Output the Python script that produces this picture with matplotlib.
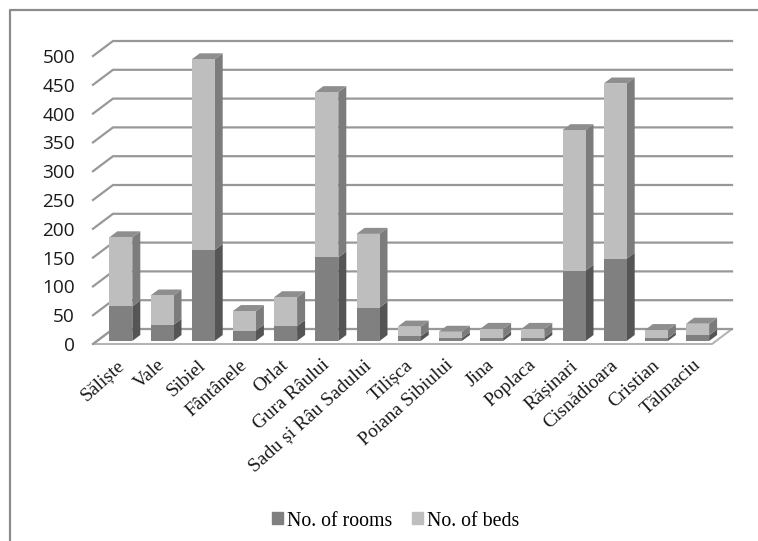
import matplotlib
matplotlib.use("Agg")
import matplotlib.pyplot as plt
from matplotlib.lines import Line2D
from matplotlib.patches import Patch, Polygon
from matplotlib.transforms import ScaledTranslation, offset_copy

'''
    DATA
'''
LOCALITIES = ["Săliște", "Vale", "Sibiel", "Fântânele", "Orlat", "Gura Râului",
              "Sadu și Râu Sadului", "Tilișca", "Poiana Sibiului", "Jina", "Poplaca",
              "Rășinari", "Cisnădioara", "Cristian", "Tălmaciu"]
ROOMS = [60, 28, 158, 18, 26, 145, 58, 8, 5, 6, 6, 122, 143, 5, 10]
BEDS = [120, 51, 331, 34, 50, 287, 128, 17, 11, 15, 15, 244, 304, 14, 20]
Y_TICKS = [0, 50, 100, 150, 200, 250, 300, 350, 400, 450, 500]

'''
    GRAPH CONFIGURATION
'''
WIDTH, HEIGHT = 758, 541
LEFT, RIGHT, TOP, BOTTOM = 93, 732, 41, 344
CAT_PX = 41.2
FIRST_BAR_PX = 120.8
VALUE_PX = 0.576
BAR_WIDTH = 23 / CAT_PX
BAR_LIFT = 3  # bars stand slightly behind the front edge of the floor

# depth of the fake 3d, in data units
WALL_DX, WALL_DY = 20 / CAT_PX, 15 / VALUE_PX
BAR_DX, BAR_DY = 8 / CAT_PX, 6 / VALUE_PX

ROOMS_FRONT, ROOMS_SIDE = "#808080", "#555555"
BEDS_FRONT, BEDS_SIDE = "#bebebe", "#7c7c7c"
TOP_FACE = "#8e8e8e"
GRID_COLOR = "#989898"
FRAME_COLOR = "#8c8c8c"

fig = plt.figure(figsize=(WIDTH / 100, HEIGHT / 100), dpi=100)
ax = fig.add_axes([LEFT / WIDTH, 1 - BOTTOM / HEIGHT,
                   (RIGHT - LEFT) / WIDTH, (BOTTOM - TOP) / HEIGHT])
ax.set_xlim((LEFT - FIRST_BAR_PX) / CAT_PX, (RIGHT - FIRST_BAR_PX) / CAT_PX)
ax.set_ylim(0, (BOTTOM - TOP) / VALUE_PX)
ax.patch.set_visible(False)
for spine in ax.spines.values():
    spine.set_visible(False)

x_left, x_right = ax.get_xlim()
floor_right = x_right - WALL_DX

# floor
floor = Polygon([(x_left, 0), (floor_right, 0), (x_right, WALL_DY), (x_left + WALL_DX, WALL_DY)],
                closed=True, facecolor="white", edgecolor="#b4b4b4", linewidth=1.5,
                clip_on=False, zorder=1)
ax.add_patch(floor)

# gridlines run along the back wall and bend down the side wall
for tick in Y_TICKS:
    ax.plot([x_left, x_left + WALL_DX, x_right], [tick, tick + WALL_DY, tick + WALL_DY],
            color=GRID_COLOR, linewidth=1.6, clip_on=False, zorder=2,
            solid_joinstyle="round")

bar_transform = offset_copy(ax.transData, fig=fig, y=BAR_LIFT, units="dots")


def add_face(points, color):
    face = Polygon(points, closed=True, facecolor=color, edgecolor="none",
                   transform=bar_transform, clip_on=False, zorder=3)
    ax.add_patch(face)


positions = list(range(len(LOCALITIES)))
for pos, rooms, beds in zip(positions, ROOMS, BEDS):
    x0 = pos - BAR_WIDTH / 2
    x1 = pos + BAR_WIDTH / 2
    total = rooms + beds
    add_face([(x1, 0), (x1 + BAR_DX, BAR_DY), (x1 + BAR_DX, rooms + BAR_DY), (x1, rooms)], ROOMS_SIDE)
    add_face([(x1, rooms), (x1 + BAR_DX, rooms + BAR_DY), (x1 + BAR_DX, total + BAR_DY), (x1, total)], BEDS_SIDE)
    add_face([(x0, total), (x1, total), (x1 + BAR_DX, total + BAR_DY), (x0 + BAR_DX, total + BAR_DY)], TOP_FACE)

ax.bar(positions, ROOMS, width=BAR_WIDTH, color=ROOMS_FRONT, transform=bar_transform,
       clip_on=False, zorder=4)
ax.bar(positions, BEDS, bottom=ROOMS, width=BAR_WIDTH, color=BEDS_FRONT, transform=bar_transform,
       clip_on=False, zorder=4)

ax.set_xlim(x_left, x_right)
ax.set_ylim(0, (BOTTOM - TOP) / VALUE_PX)

ax.set_yticks(Y_TICKS)
ax.tick_params(axis="y", length=0, pad=13)
for label in ax.get_yticklabels():
    label.set_family("Open Sans")
    label.set_fontsize(13.7)
    label.set_color("#1a1a1a")

ax.set_xticks(positions)
ax.set_xticklabels(LOCALITIES, rotation=42, ha="right", va="top", rotation_mode="anchor",
                   family="Liberation Serif", fontsize=14, color="#1a1a1a")
ax.tick_params(axis="x", length=0, pad=9)
# the slanted labels end a little left of their bar
shift_left = ScaledTranslation(-5 / 100, 0, fig.dpi_scale_trans)
for label in ax.get_xticklabels():
    label.set_transform(label.get_transform() + shift_left)

handles = [Patch(color=ROOMS_FRONT, label="No. of rooms"), Patch(color=BEDS_FRONT, label="No. of beds")]
fig.legend(handles=handles, loc="center", bbox_to_anchor=(396 / WIDTH, 1 - 521 / HEIGHT), ncol=2,
           frameon=False, handlelength=0.55, handleheight=0.55, handletextpad=0.2, columnspacing=1.0,
           prop={"family": "Liberation Serif", "size": 14.3})

# chart area border, only the top and left edges are there
fig.add_artist(Line2D([10 / WIDTH, 10 / WIDTH, 1], [0, 1 - 10 / HEIGHT, 1 - 10 / HEIGHT],
                      color=FRAME_COLOR, linewidth=1.6, transform=fig.transFigure))

fig.savefig("out.png", dpi=100)
